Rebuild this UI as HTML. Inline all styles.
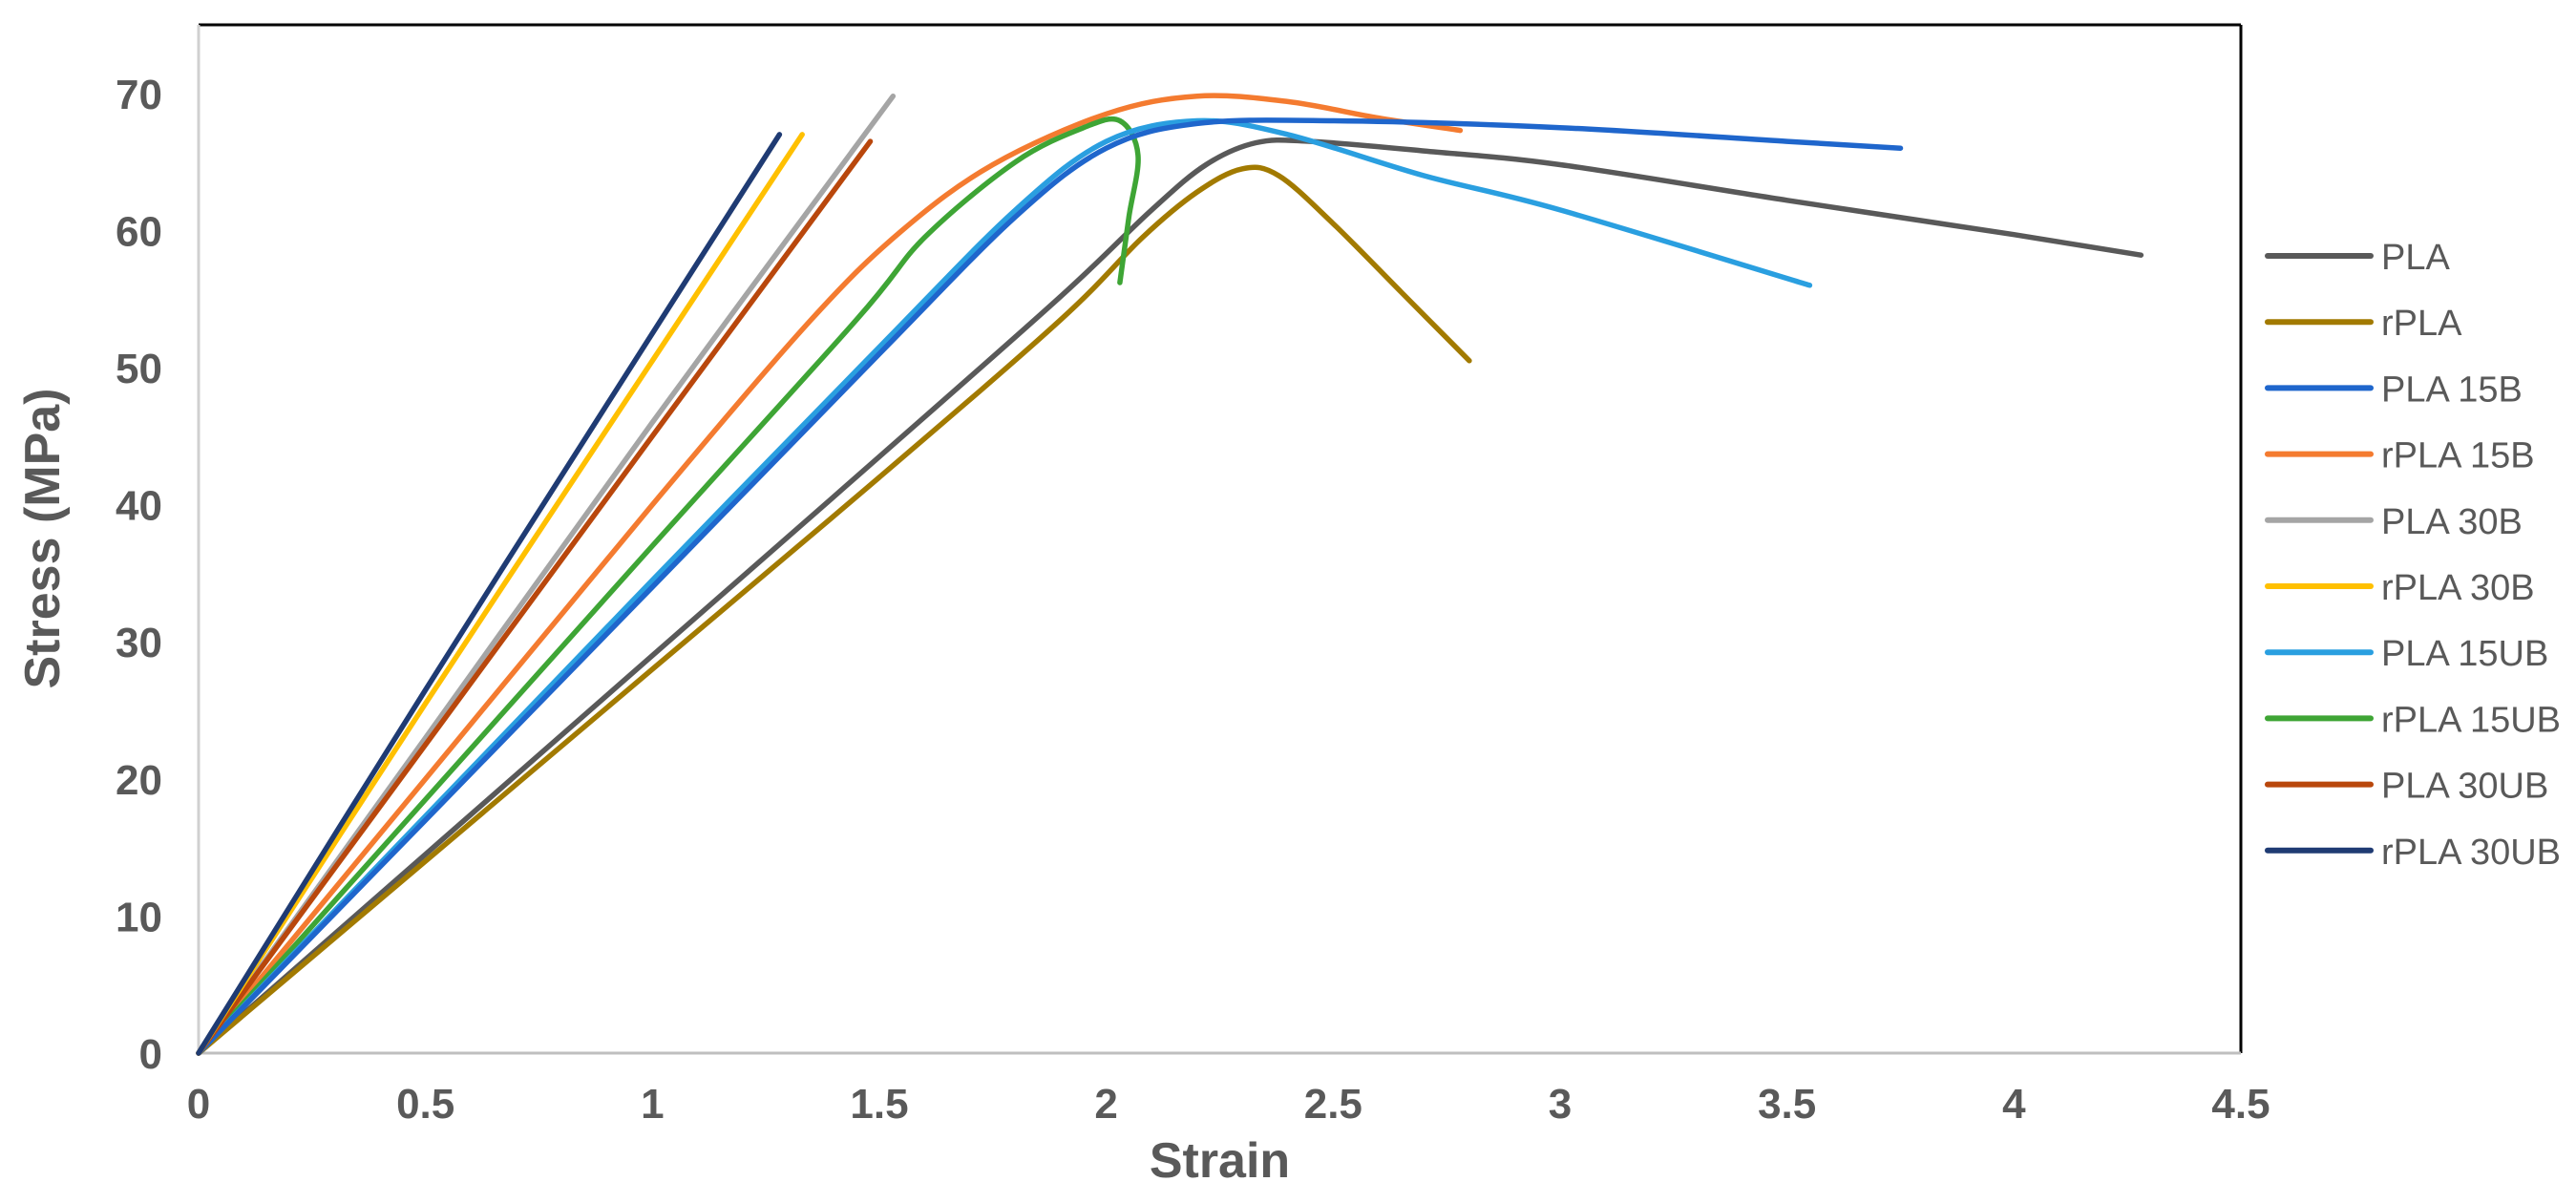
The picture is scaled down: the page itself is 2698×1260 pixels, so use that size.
<!DOCTYPE html>
<html><head><meta charset="utf-8"><style>
html,body{margin:0;padding:0;background:#fff}
svg{display:block}
</style></head><body>
<svg id="chart" width="2698" height="1260" viewBox="0 0 2698 1260" xmlns="http://www.w3.org/2000/svg"></svg>
<script>
const seriesNames = ["PLA","rPLA","PLA 15B","rPLA 15B","PLA 30B","rPLA 30B","PLA 15UB","rPLA 15UB","PLA 30UB","rPLA 30UB"];
const seriesColors = ["#595959","#A27A00","#1F66CC","#F47B30","#A5A5A5","#FFC000","#2A9FE0","#3EA535","#B9470C","#1F3B73"];
const xTicks = [0,0.5,1,1.5,2,2.5,3,3.5,4,4.5];
const xTickLabels = ["0","0.5","1","1.5","2","2.5","3","3.5","4","4.5"];
const yTicks = [0,10,20,30,40,50,60,70];
const yTickLabels = ["0","10","20","30","40","50","60","70"];
const sPLA = [[0,0],[1,29],[1.5,43.5],[1.9,55.2],[2.1,61.5],[2.22,64.8],[2.33,66.4],[2.45,66.5],[2.7,65.8],[3,64.8],[3.5,62.2],[4,59.7],[4.28,58.2]];
const sRPLA = [[0,0],[1,28],[1.5,42],[1.9,53.5],[2.08,59.5],[2.2,62.8],[2.3,64.5],[2.38,64],[2.5,60.5],[2.65,55.5],[2.8,50.5]];
const sPLA15B = [[0,0],[0.5,17],[1,34],[1.5,51],[1.8,61],[2,66],[2.2,67.8],[2.5,68],[3,67.5],[3.5,66.5],[3.75,66]];
const sRPLA15B = [[0,0],[0.5,20],[1,40],[1.35,53.5],[1.55,60],[1.75,64.8],[2,68.5],[2.2,69.8],[2.4,69.4],[2.6,68.2],[2.78,67.3]];
const sPLA30B = [[0,0],[0.5,23],[1,46],[1.53,69.8]];
const sRPLA30B = [[0,0],[0.5,25.5],[1,50.5],[1.33,67]];
const sPLA15UB = [[0,0],[0.5,17.3],[1,34.5],[1.5,51.5],[1.8,61.5],[2,66.5],[2.2,68],[2.4,67],[2.7,64],[3,61.5],[3.55,56]];
const sRPLA15UB = [[0,0],[0.5,18.5],[1,37],[1.45,53.5],[1.6,59.5],[1.8,65],[1.95,67.5],[2.03,68],[2.07,65.5],[2.05,61],[2.03,56.2]];
const sPLA30UB = [[0,0],[0.5,22.5],[1,45],[1.48,66.5]];
const sRPLA30UB = [[0,0],[0.5,26.5],[1,52.5],[1.28,67]];
const seriesData = [sPLA,sRPLA,sPLA15B,sRPLA15B,sPLA30B,sRPLA30B,sPLA15UB,sRPLA15UB,sPLA30UB,sRPLA30UB];
const drawOrder = [0,1,3,7,6,2,4,8,5,9];

const L=208,R=2347,T=26,B=1103,XMAX=4.5,YMAX=75;
const X=v=>L+v/XMAX*(R-L);
const Y=v=>B-v/YMAX*(B-T);
const NS="http://www.w3.org/2000/svg";
const svg=document.getElementById('chart');
function mk(tag,attrs,parent){const e=document.createElementNS(NS,tag);for(const k in attrs)e.setAttribute(k,attrs[k]);(parent||svg).appendChild(e);return e;}

let e;
e=mk('line',{x1:L,y1:T,x2:R,y2:T,stroke:'#000','stroke-width':3});


e=mk('line',{x1:R,y1:T,x2:R,y2:B,stroke:'#000','stroke-width':3});


e=mk('line',{x1:L,y1:T,x2:L,y2:B,stroke:'#d0d0d0','stroke-width':3});


e=mk('line',{x1:L,y1:B,x2:R,y2:B,stroke:'#bfbfbf','stroke-width':3});



const tf='font-family:"Liberation Sans",Arial,sans-serif;font-weight:bold;font-size:44px;fill:#595959';
xTicks.forEach((v,i)=>{
  const t=mk('text',{x:X(v),y:1171,'text-anchor':'middle',style:tf});
  t.textContent=xTickLabels[i];
  
  
});
yTicks.forEach((v,i)=>{
  const t=mk('text',{x:170,y:Y(v)+16,'text-anchor':'end',style:tf});
  t.textContent=yTickLabels[i];
  
  
});
let t=mk('text',{x:X(2.25),y:1233,'text-anchor':'middle',style:'font-family:"Liberation Sans",Arial,sans-serif;font-weight:bold;font-size:52px;fill:#595959'});
t.textContent='Strain';


t=mk('text',{x:0,y:0,'text-anchor':'middle',transform:'translate(62,564) rotate(-90)',style:'font-family:"Liberation Sans",Arial,sans-serif;font-weight:bold;font-size:52px;fill:#595959'});
t.textContent='Stress (MPa)';



function pathFor(pts){
  const p=pts.map(d=>[X(d[0]),Y(d[1])]);
  let s='M'+p[0][0].toFixed(1)+','+p[0][1].toFixed(1);
  for(let i=0;i<p.length-1;i++){
    const p0=p[Math.max(0,i-1)],p1=p[i],p2=p[i+1],p3=p[Math.min(p.length-1,i+2)];
    const c1=[p1[0]+(p2[0]-p0[0])/6,p1[1]+(p2[1]-p0[1])/6];
    const c2=[p2[0]-(p3[0]-p1[0])/6,p2[1]-(p3[1]-p1[1])/6];
    s+=' C'+c1[0].toFixed(1)+','+c1[1].toFixed(1)+' '+c2[0].toFixed(1)+','+c2[1].toFixed(1)+' '+p2[0].toFixed(1)+','+p2[1].toFixed(1);
  }
  return s;
}
drawOrder.forEach(i=>{
  const p=mk('path',{d:pathFor(seriesData[i]),fill:'none',stroke:seriesColors[i],'stroke-width':5.5,'stroke-linecap':'round','stroke-linejoin':'round'});
  
  
});

seriesNames.forEach((n,i)=>{
  const y=268+i*69.2;
  const g=mk('g',{});
  
  
  mk('line',{x1:2375,y1:y,x2:2483,y2:y,stroke:seriesColors[i],'stroke-width':6,'stroke-linecap':'round'},g);
  const tx=mk('text',{x:2494,y:y+14,style:'font-family:"Liberation Sans",Arial,sans-serif;font-size:38px;fill:#595959'},g);
  tx.textContent=n;
});
</script>
</body></html>
